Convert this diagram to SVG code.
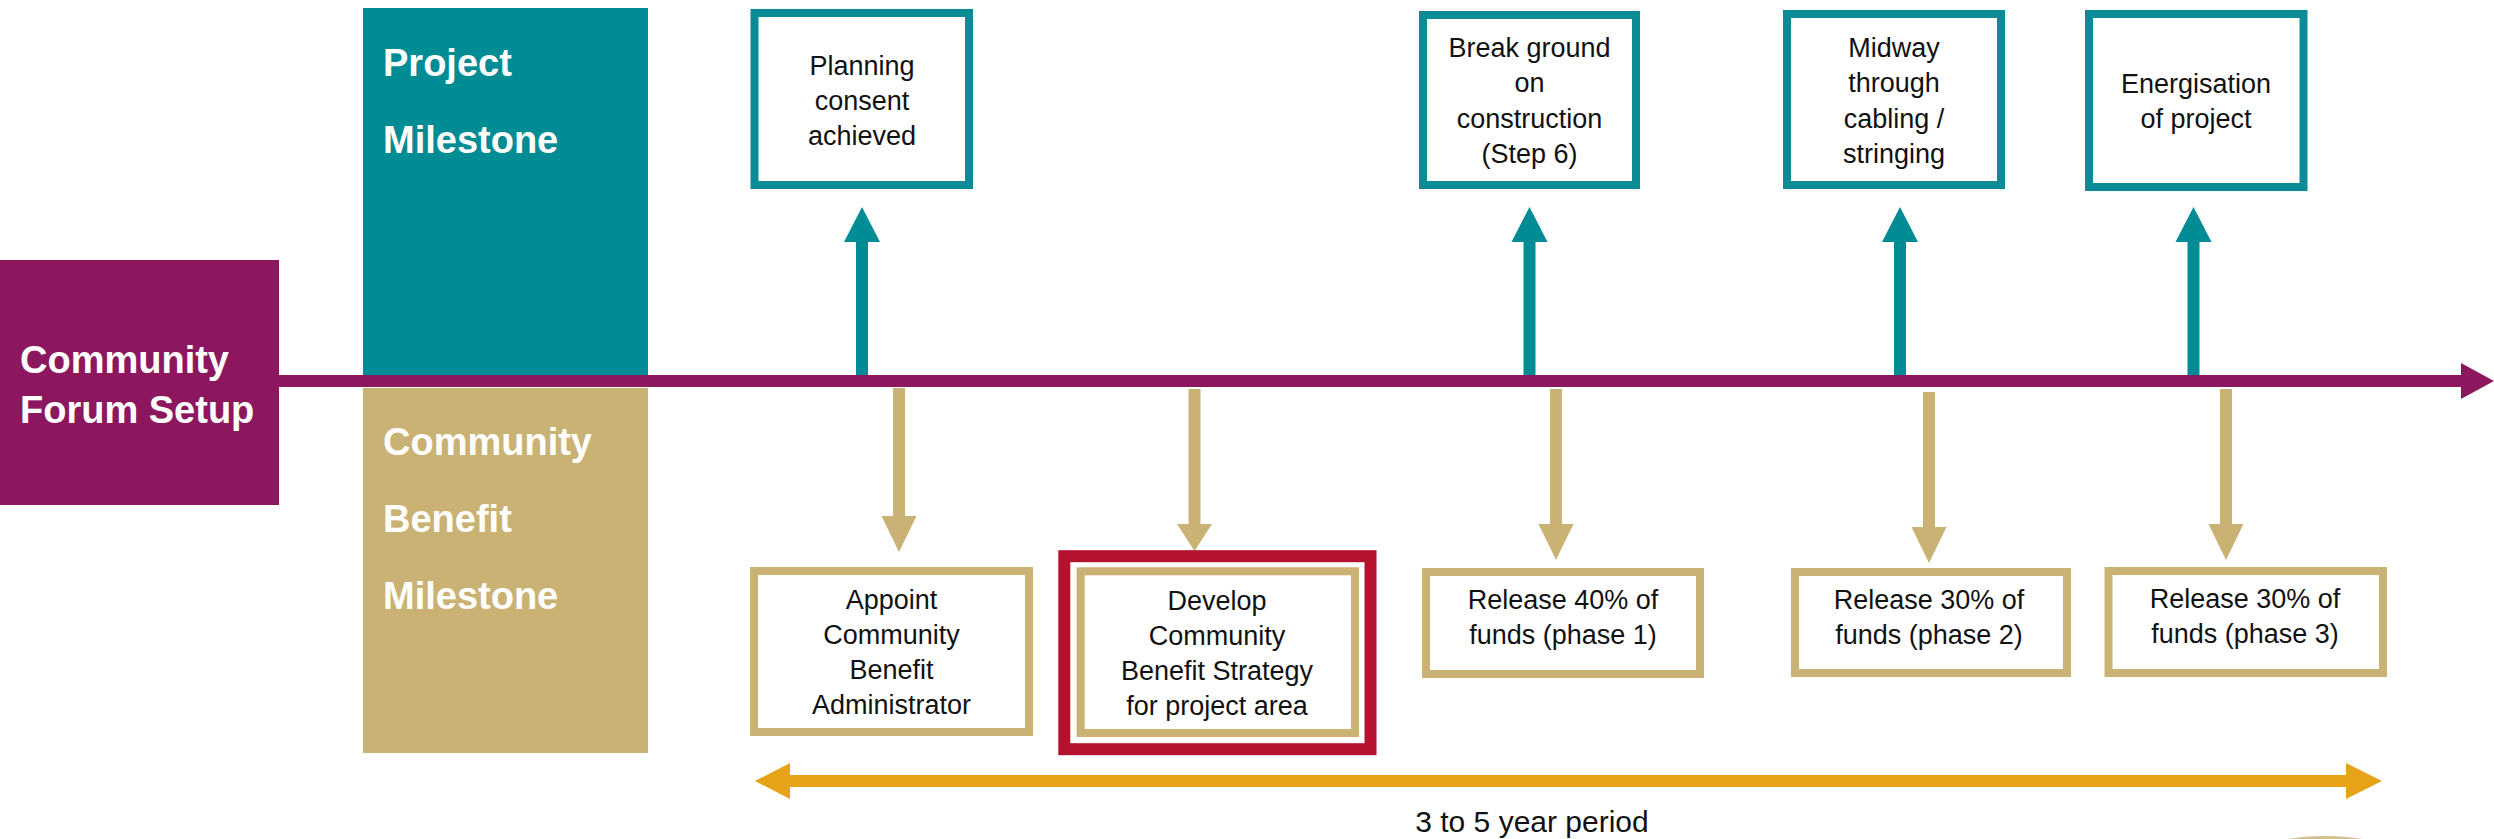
<svg xmlns="http://www.w3.org/2000/svg" width="2494" height="839" viewBox="0 0 2494 839">
<style>
  .hdr { font-family: "Liberation Sans", Arial, sans-serif; font-weight: bold; font-size: 38px; fill: #ffffff; }
  .lbl { font-family: "Liberation Sans", Arial, sans-serif; font-size: 27px; fill: #111111; text-anchor: middle; }
  .per { font-family: "Liberation Sans", Arial, sans-serif; font-size: 30px; fill: #111111; text-anchor: middle; }
  .tbox { fill: #ffffff; stroke: #0A8B95; stroke-width: 8; }
  .gbox { fill: #ffffff; stroke: #C9B273; stroke-width: 8; }
  .teal { fill: #008C95; }
  .tan { fill: #C9B273; }
</style>
<rect width="2494" height="839" fill="#ffffff"/>

<g id="band-project">
  <rect x="363" y="8" width="285" height="367" class="teal"/>
  <text class="hdr" x="383" y="76">Project</text>
  <text class="hdr" x="383" y="153">Milestone</text>
</g>
<g id="band-community">
  <rect x="363" y="388" width="285" height="365" class="tan"/>
  <text class="hdr" x="383" y="455">Community</text>
  <text class="hdr" x="383" y="532">Benefit</text>
  <text class="hdr" x="383" y="609">Milestone</text>
</g>
<g id="forum">
  <rect x="0" y="260" width="279" height="245" fill="#8C175F"/>
  <text class="hdr" x="20" y="373">Community</text>
  <text class="hdr" x="20" y="423">Forum Setup</text>
</g>

<g id="connectors">
  <rect x="279" y="375" width="2183" height="12" fill="#8C175F"/>
  <polygon points="2461,363 2494,381 2461,399" fill="#8C175F"/>
  <g class="teal">
    <rect x="856" y="241" width="12" height="134"/>
    <polygon points="844,242 862,207 880,242"/>
    <rect x="1523.5" y="241" width="12" height="134"/>
    <polygon points="1511.5,242 1529.5,207 1547.5,242"/>
    <rect x="1894" y="241" width="12" height="134"/>
    <polygon points="1882,242 1900,207 1918,242"/>
    <rect x="2187.5" y="241" width="12" height="134"/>
    <polygon points="2175.5,242 2193.5,207 2211.5,242"/>
  </g>
  <g class="tan">
    <rect x="893" y="388" width="12" height="129"/>
    <polygon points="881.5,516 899,552 916.5,516"/>
    <rect x="1188.5" y="389" width="12" height="136"/>
    <polygon points="1177,524 1194.5,551 1212,524"/>
    <rect x="1550" y="389" width="12" height="136"/>
    <polygon points="1538.5,524 1556,560 1573.5,524"/>
    <rect x="1923" y="392" width="12" height="136"/>
    <polygon points="1911.5,527 1929,563 1946.5,527"/>
    <rect x="2220" y="389" width="12" height="136"/>
    <polygon points="2208.5,524 2226,560 2243.5,524"/>
  </g>
  <rect x="789" y="775" width="1558" height="12" fill="#E6A317"/>
  <polygon points="790,763 755,781 790,799" fill="#E6A317"/>
  <polygon points="2346,763 2382,781 2346,799" fill="#E6A317"/>
</g>

<g id="planning">
  <rect class="tbox" x="754.5" y="13" width="214.5" height="172"/>
  <text class="lbl" x="862" y="75">Planning</text>
  <text class="lbl" x="862" y="110">consent</text>
  <text class="lbl" x="862" y="145">achieved</text>
</g>
<g id="break-ground">
  <rect class="tbox" x="1423" y="15" width="213" height="170"/>
  <text class="lbl" x="1529.5" y="57">Break ground</text>
  <text class="lbl" x="1529.5" y="92">on</text>
  <text class="lbl" x="1529.5" y="128">construction</text>
  <text class="lbl" x="1529.5" y="163">(Step 6)</text>
</g>
<g id="midway">
  <rect class="tbox" x="1787" y="14" width="214" height="171"/>
  <text class="lbl" x="1894" y="57">Midway</text>
  <text class="lbl" x="1894" y="92">through</text>
  <text class="lbl" x="1894" y="128">cabling /</text>
  <text class="lbl" x="1894" y="163">stringing</text>
</g>
<g id="energisation">
  <rect class="tbox" x="2089" y="14" width="214.5" height="173"/>
  <text class="lbl" x="2196" y="93">Energisation</text>
  <text class="lbl" x="2196" y="128">of project</text>
</g>

<g id="appoint">
  <rect class="gbox" x="754" y="571" width="275" height="161"/>
  <text class="lbl" x="891.5" y="609">Appoint</text>
  <text class="lbl" x="891.5" y="644">Community</text>
  <text class="lbl" x="891.5" y="679">Benefit</text>
  <text class="lbl" x="891.5" y="714">Administrator</text>
</g>
<g id="develop">
  <rect x="1064.3" y="556.2" width="306.2" height="193" fill="#ffffff" stroke="#B5122F" stroke-width="12"/>
  <rect class="gbox" x="1080.7" y="571.3" width="274.3" height="161.7"/>
  <text class="lbl" x="1217" y="610">Develop</text>
  <text class="lbl" x="1217" y="645">Community</text>
  <text class="lbl" x="1217" y="680">Benefit Strategy</text>
  <text class="lbl" x="1217" y="715">for project area</text>
</g>
<g id="release-1">
  <rect class="gbox" x="1426" y="572" width="274" height="102"/>
  <text class="lbl" x="1563" y="609">Release 40% of</text>
  <text class="lbl" x="1563" y="644">funds (phase 1)</text>
</g>
<g id="release-2">
  <rect class="gbox" x="1795" y="572" width="272" height="101"/>
  <text class="lbl" x="1929" y="609">Release 30% of</text>
  <text class="lbl" x="1929" y="644">funds (phase 2)</text>
</g>
<g id="release-3">
  <rect class="gbox" x="2108.5" y="571" width="274.5" height="102"/>
  <text class="lbl" x="2245" y="608">Release 30% of</text>
  <text class="lbl" x="2245" y="643">funds (phase 3)</text>
</g>

<g id="period">
  <text class="per" x="1532" y="832">3 to 5 year period</text>
</g>

<ellipse cx="2325" cy="877" rx="100" ry="41" fill="#D2C08E"/>
</svg>
